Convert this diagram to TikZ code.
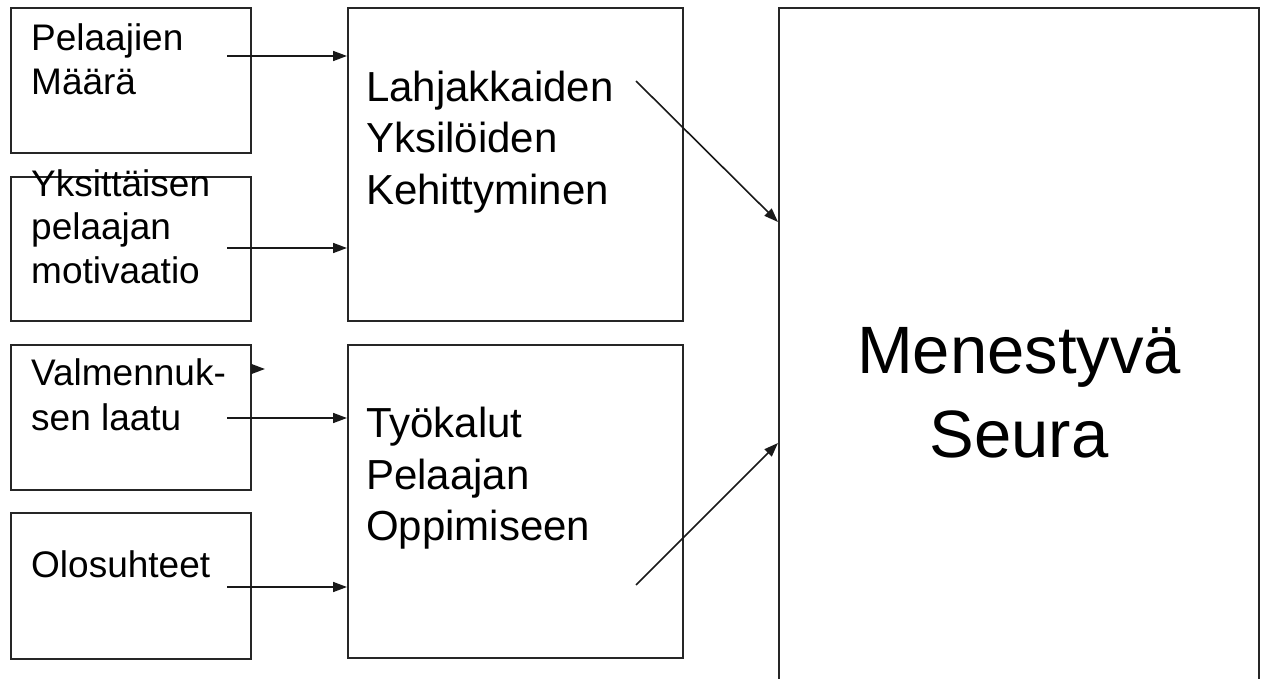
\documentclass[tikz,border=0pt]{standalone}
\usepackage{fontspec}
\setmainfont{Liberation Sans}
\usetikzlibrary{arrows.meta,fit}
\tikzset{
  box/.style={draw=black!85, line width=2pt, inner sep=0pt, fill=none},
  small/.style={anchor=base west, inner sep=0pt, font=\fontsize{37}{44}\selectfont},
  mid/.style={anchor=base west, inner sep=0pt, font=\fontsize{42}{52}\selectfont},
  big/.style={anchor=base, inner sep=0pt, font=\fontsize{67}{80}\selectfont},
  conn/.style={line width=1.6pt, draw=black!90, -{Triangle[length=14pt,width=10pt]}},
}
\begin{document}
\begin{tikzpicture}[x=1pt,y=-1pt]
\useasboundingbox (0,0) rectangle (1261,679);
\clip (0,0) rectangle (1261,679);
\fill[white] (0,0) rectangle (1261,679);
% boxes
\node[box, fit={(10.5,8) (251,153)}] (b1) {};
\node[box, fit={(10.5,177) (251,321)}] (b2) {};
\node[box, fit={(10.5,345) (251,490)}] (b3) {};
\node[box, fit={(10.5,513) (251,659)}] (b4) {};
\node[box, fit={(348,8) (683,321)}] (m1) {};
\node[box, fit={(348,345) (683,658)}] (m2) {};
\node[box, fit={(779,8) (1259,700)}] (goal) {};
% texts
\node[small] (t1a) at (31,50.5) {Pelaajien};
\node[small] (t1b) at (31,94.5) {Määrä};
\node[small] (t2a) at (31,197) {Yksittäisen};
\node[small] (t2b) at (31,240) {pelaajan};
\node[small] (t2c) at (31,283) {motivaatio};
\node[small] (t3a) at (31,385) {Valmennuk-};
\node[small] (t3b) at (31,430) {sen laatu};
\node[small] (t4a) at (31,577) {Olosuhteet};
\node[mid] (t5a) at (366,101.7) {Lahjakkaiden};
\node[mid] (t5b) at (366,153) {Yksilöiden};
\node[mid] (t5c) at (366,205) {Kehittyminen};
\node[mid] (t6a) at (366,437) {Työkalut};
\node[mid] (t6b) at (366,489) {Pelaajan};
\node[mid] (t6c) at (366,540) {Oppimiseen};
\node[big] (t7a) at (1019,373) {Menestyvä};
\node[big] (t7b) at (1019,457) {Seura};
% connectors
\coordinate (s1) at (227,56);
\coordinate (s2) at (227,248);
\coordinate (s3) at (227,418);
\coordinate (s4) at (227,587);
\draw[conn] (s1) -- (s1 -| m1.west);
\draw[conn] (s2) -- (s2 -| m1.west);
\draw[conn] (s3) -- (s3 -| m2.west);
\draw[conn] (s4) -- (s4 -| m2.west);
\coordinate (st) at (251,369);
\draw[conn] (st) -- ++(14,0);
\coordinate (d1) at (636,81);
\coordinate (y1) at (0,222);
\coordinate (d2) at (636,585);
\coordinate (y2) at (0,443);
\draw[conn] (d1) -- (goal.west |- y1);
\draw[conn] (d2) -- (goal.west |- y2);
\end{tikzpicture}
\end{document}
